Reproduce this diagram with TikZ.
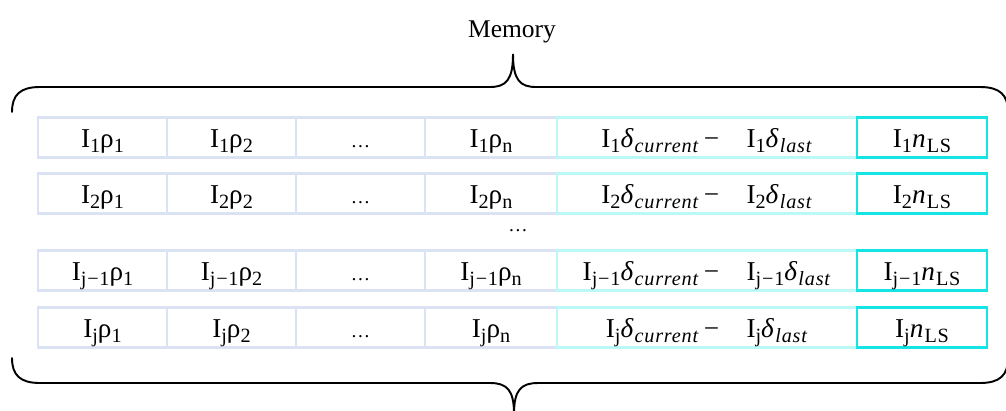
\documentclass[tikz,border=0pt]{standalone}
\usepackage{fontspec}
\setmainfont{Liberation Serif}
\newfontfamily\cellfont[LetterSpace=4]{Liberation Serif}
\definecolor{lav}{RGB}{218,226,244}
\definecolor{palecyan}{RGB}{188,248,248}
\definecolor{brightcyan}{RGB}{20,228,230}
% subscripts set a little larger than \textsubscript would make them
\newcommand\sbs[1]{\raisebox{-2.8pt}{\fontsize{11.5}{13}\selectfont #1}}
\tikzset{
  cell/.style={draw=lav, line width=1.6pt, minimum height=0.8cm, inner sep=0pt,
    outer sep=0pt, text height=0.5cm, text depth=0.11cm,
    font=\cellfont\fontsize{15.5}{18}\selectfont},
  diffcell/.style={cell, draw=palecyan},
  countcell/.style={cell, draw=brightcyan},
  brace/.style={line width=1.1pt, line cap=round},
  lbl/.style={font=\fontsize{14.5}{17}\selectfont, inner sep=0pt},
  dotsfont/.style={font=\fontsize{11}{13}\selectfont}
}
\begin{document}
\begin{tikzpicture}[x=0.02cm, y=-0.02cm]
\useasboundingbox (0,0) rectangle (1006,410);

% label and braces around the memory table
\node[lbl, anchor=base] (mem) at (512,37) {Memory};
\coordinate (toptip) at (513,54);
\coordinate (bottip) at (514,414);
\draw[brace] (12,112) .. controls (12,95) and (20,87) .. (40,87) -- (490,87)
  .. controls (506,87) and (513,80) .. (toptip)
  .. controls (513,80) and (520,87) .. (536,87) -- (980,87)
  .. controls (1000,87) and (1008,95) .. (1008,112);
\draw[brace] (12,358) .. controls (12,375) and (20,383) .. (40,383) -- (490,383)
  .. controls (507,383) and (514,390) .. (bottip);
\draw[brace] (bottip) .. controls (514,390) and (521,383) .. (538,383) -- (980,383)
  .. controls (1000,383) and (1008,375) .. (1008,358);

% one row of cells per stored item
\foreach \s/\y/\r in {1/137.5/a, 2/193.5/b, j−1/270.5/c, j/327.5/d}{
  \node[cell, minimum width=2.58cm] (p1\r) at (102.5,\y) {I\sbs{\s}ρ\sbs{1}};
  \node[cell, minimum width=2.58cm] (p2\r) at (231.5,\y) {I\sbs{\s}ρ\sbs{2}};
  \node[cell, dotsfont, minimum width=2.58cm] (pd\r) at (360.5,\y) {…};
  \node[cell, minimum width=2.64cm] (pn\r) at (491,\y) {I\sbs{\s}ρ\sbs{n}};
  \node[diffcell, minimum width=6cm] (dl\r) at (707,\y)
    {I\sbs{\s}\textit{δ}\sbs{\textit{current}}\,−\hspace{1em}I\sbs{\s}\textit{δ}\sbs{\textit{last}}};
  \node[countcell, minimum width=2.6cm] (ls\r) at (922,\y) {I\sbs{\s}\textit{n}\sbs{LS}};
}
\node[lbl, dotsfont] (vdots) at (518,231) {…};
\end{tikzpicture}
\end{document}
